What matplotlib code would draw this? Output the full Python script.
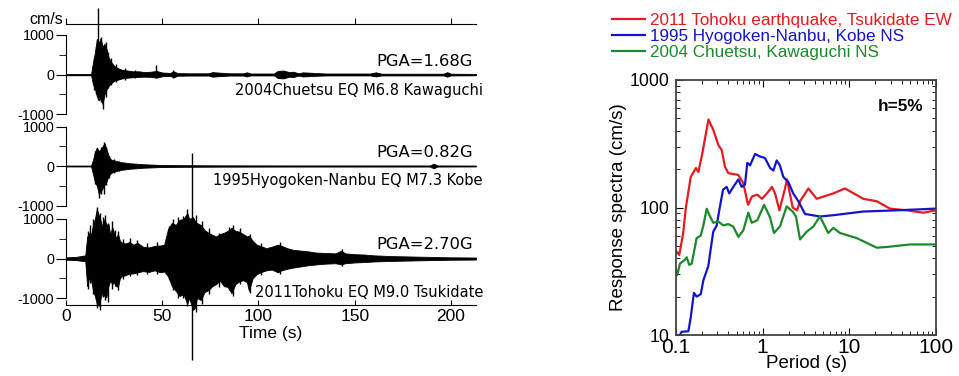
import matplotlib
matplotlib.use('Agg')
import matplotlib.pyplot as plt

plt.rcParams['font.family'] = ['Liberation Sans', 'DejaVu Sans']

# --- seismograms: envelope (time s, upper / lower cm/s) ---
chu_t = [0, 13, 14, 15, 16, 17, 18, 19, 20, 21, 22, 23, 24, 25, 27, 29, 32, 35, 38, 41,
         44, 47, 50, 54, 56, 58, 64, 74, 76, 85, 92, 94, 96, 108, 110, 113, 116, 118, 121, 123,
         135, 158, 161, 164, 185, 196, 198, 200, 213]
chu_hi = [10, 10, 300, 550, 900, 800, 920, 700, 780, 650, 450, 350, 280, 220, 160, 120, 100, 80, 80, 60,
          70, 90, 50, 40, 80, 35, 30, 30, 60, 30, 30, 55, 25, 25, 90, 100, 60, 70, 30, 55,
          25, 25, 55, 20, 20, 20, 60, 20, 15]
chu_lo = [-10, -10, -250, -350, -550, -650, -620, -750, -500, -380, -300, -240, -200, -160, -130, -100, -80, -70, -60, -55,
          -60, -80, -45, -35, -70, -30, -25, -25, -55, -25, -25, -50, -20, -20, -90, -100, -55, -65, -25, -50,
          -20, -20, -50, -20, -20, -20, -55, -20, -15]
chu_spike_t = [14.5, 15.6, 16.8, 18.3, 19.3, 20.6, 21.8, 23.5, 26.0, 30.5, 36.0, 47.0, 55.5]
chu_spike_hi = [420, 700, 1680, 950, 300, 820, 560, 420, 260, 160, 120, 230, 110]
chu_spike_lo = [-380, -500, -650, -700, -880, -560, -350, -260, -200, -130, -100, -100, -90]

kobe_t = [0, 13, 14, 15, 16, 17, 18, 19, 20, 21, 22, 23, 24, 26, 28, 30, 33, 36, 40, 45,
          50, 60, 80, 120, 189, 191, 193, 213]
kobe_hi = [8, 8, 150, 350, 470, 380, 420, 500, 575, 430, 280, 180, 150, 130, 100, 90, 70, 60, 45, 35,
           25, 20, 15, 12, 12, 60, 12, 8]
kobe_lo = [-8, -8, -200, -400, -500, -700, -650, -570, -480, -400, -260, -200, -160, -130, -100, -90, -70, -60, -45, -35,
           -25, -20, -15, -12, -12, -60, -12, -8]
kobe_spike_t = [15.3, 17.0, 18.4, 19.5, 21.0, 22.5, 25.0, 27.5]
kobe_spike_hi = [380, 200, 480, 600, 470, 250, 170, 120]
kobe_spike_lo = [-450, -800, -720, -700, -480, -300, -180, -130]

toh_t = [0, 5, 10, 11, 12, 13, 14, 15, 16, 17, 18, 19, 20, 21, 22, 23, 24, 25, 26, 27,
         28, 29, 31, 33, 35, 37, 40, 43, 46, 49, 51, 53, 55, 57, 59, 61, 63, 64, 66, 67,
         68, 70, 72, 74, 76, 78, 80, 82, 84, 86, 88, 90, 92, 94, 95, 97, 99, 101, 104, 107,
         110, 112, 115, 118, 122, 126, 130, 135, 140, 143, 145, 150, 155, 160, 170, 180, 190, 200, 213]
toh_hi = [30, 40, 80, 550, 650, 600, 850, 1000, 1250, 1100, 950, 800, 1000, 850, 880, 600, 800, 650, 520, 620,
          450, 400, 380, 420, 350, 400, 300, 280, 320, 330, 350, 750, 900, 850, 980, 1000, 1150, 1000, 1050, 950,
          900, 850, 720, 650, 600, 560, 620, 650, 700, 780, 700, 680, 620, 560, 580, 450, 350, 320, 260, 300,
          350, 320, 260, 220, 200, 180, 150, 140, 130, 200, 130, 110, 100, 80, 60, 50, 40, 30, 25]
toh_lo = [-30, -40, -70, -700, -500, -550, -800, -950, -1150, -1200, -1000, -850, -950, -980, -700, -560, -650, -600, -700, -720,
          -500, -450, -420, -380, -380, -350, -320, -340, -300, -350, -330, -450, -700, -820, -950, -900, -1150, -1000, -1300, -1250,
          -1000, -1050, -850, -800, -700, -650, -560, -700, -720, -880, -650, -580, -550, -600, -820, -500, -400, -350, -300, -280,
          -350, -300, -260, -230, -200, -170, -150, -130, -120, -150, -120, -100, -90, -75, -60, -50, -40, -30, -25]
toh_spike_t = [11.4, 12.6, 14.2, 16.3, 17.6, 19.1, 20.3, 21.6, 24.1, 25.7, 27.2, 29.8, 33.4, 36.8, 42.0, 47.5,
               53.6, 55.4, 58.4, 60.6, 62.8, 65.3, 67.4, 70.6, 74.2, 79.5, 84.6, 86.8, 90.2, 95.4, 101.5, 111.0, 143.5]
toh_spike_hi = [700, 850, 1000, 1300, 1150, 1050, 1100, 900, 950, 720, 700, 500, 520, 480, 380, 420,
                820, 1000, 1050, 1080, 1250, 2660, 1100, 950, 760, 650, 800, 850, 760, 620, 380, 420, 240]
toh_spike_lo = [-760, -620, -900, -1250, -1300, -980, -1050, -1100, -760, -700, -800, -520, -450, -420, -380, -400,
                -520, -800, -1000, -1000, -1200, -2570, -1350, -1150, -900, -720, -800, -950, -650, -880, -420, -380, -180]

pga_labels = ['PGA=1.68G', 'PGA=0.82G', 'PGA=2.70G']
captions = ['2004Chuetsu EQ M6.8 Kawaguchi', '1995Hyogoken-Nanbu EQ M7.3 Kobe', '2011Tohoku EQ M9.0 Tsukidate']
time_ticks = [0, 50, 100, 150, 200]

# --- response spectra (period s, Sv cm/s) ---
red_T = [0.1, 0.109, 0.121, 0.13, 0.148, 0.17, 0.181, 0.198, 0.237, 0.269, 0.308, 0.337, 0.367, 0.401, 0.524,
         0.598, 0.678, 0.753, 0.867, 0.982, 1.12, 1.28, 1.39, 1.56, 1.81, 1.91, 2.22, 2.49, 2.70, 3.37,
         4.20, 6.53, 8.91, 14.5, 20.7, 29.4, 45.9, 71.3, 100]
red_Sv = [45.7, 42.4, 63, 100, 174, 204, 190, 251, 490, 407, 309, 282, 209, 186, 180,
          155, 105, 122, 126, 117, 129, 145, 129, 95, 141, 166, 100, 95, 112, 141,
          117, 129, 141, 117, 112, 98, 95, 91, 95]
blue_T = [0.111, 0.116, 0.139, 0.148, 0.161, 0.173, 0.193, 0.207, 0.236, 0.251, 0.269, 0.295, 0.316, 0.349,
          0.384, 0.412, 0.458, 0.524, 0.573, 0.625, 0.665, 0.715, 0.817, 0.931, 1.06, 1.22, 1.33, 1.45, 1.58,
          1.73, 1.98, 2.25, 2.58, 3.08, 4.58, 6.53, 14.5, 35.2, 100]
blue_Sv = [10, 10.6, 10.7, 13.8, 21.4, 20, 20.9, 26.9, 34.7, 46.8, 64.6, 72.4, 95.5, 138,
           145, 129, 145, 166, 145, 151, 224, 214, 263, 251, 245, 204, 195, 234, 214,
           174, 158, 129, 112, 89, 85, 87, 93, 95, 98]
green_T = [0.1, 0.1035, 0.111, 0.127, 0.133, 0.142, 0.152, 0.161, 0.173, 0.193, 0.207, 0.226, 0.247, 0.269,
           0.308, 0.351, 0.401, 0.458, 0.524, 0.598, 0.683, 0.747, 0.867, 1.04, 1.22, 1.35, 1.58, 1.89,
           2.21, 2.42, 2.70, 3.22, 3.84, 4.58, 5.71, 6.53, 7.80, 12.2, 20.7, 27.0, 50.1, 100]
green_Sv = [32.4, 29.5, 36.3, 38.9, 40.7, 35.5, 36.3, 44.7, 57.5, 60.3, 72.4, 97.7, 85.1, 75.9,
            77.6, 72.4, 74.1, 70.8, 58.9, 66.1, 91.2, 75.9, 79.4, 105, 83.2, 63.1, 70.8, 102,
            93.3, 85.1, 56.2, 64.6, 70.8, 85.1, 63.1, 69.2, 63.1, 57.5, 48.4, 49, 51.3, 51.3]
legend_labels = ['2011 Tohoku earthquake, Tsukidate EW', '1995 Hyogoken-Nanbu, Kobe NS', '2004 Chuetsu, Kawaguchi NS']

W, H = 959, 376
fig = plt.figure(figsize=(W / 100, H / 100), dpi=100)


def px_axes(x0, y0, x1, y1):
    return fig.add_axes([x0 / W, 1 - y1 / H, (x1 - x0) / W, (y1 - y0) / H])


def bare(ax):
    for s in ax.spines.values():
        s.set_visible(False)
    ax.patch.set_alpha(0)


XMAX = 213

# time axis (bottom)
ax_time = px_axes(66, 23.5, 476, 305)
bare(ax_time)
ax_time.spines['bottom'].set_visible(True)
ax_time.set_xlim(0, XMAX)
ax_time.set_yticks([])
ax_time.set_xticks(time_ticks)
ax_time.tick_params(axis='x', direction='in', length=3.5, labelsize=12.5, pad=3)
ax_time.set_xlabel('Time (s)', fontsize=12.5, labelpad=1)

# top line with upward ticks
ax_top = fig.add_axes([66 / W, 1 - 23.5 / H, 410 / W, 0.001])
bare(ax_top)
ax_top.spines['bottom'].set_visible(True)
ax_top.set_xlim(0, XMAX)
ax_top.set_yticks([])
ax_top.set_xticks(time_ticks)
ax_top.tick_params(axis='x', direction='in', length=4, labelbottom=False)
fig.text(63 / W, 1 - 20 / H, 'cm/s', ha='right', va='center', fontsize=11.5)

traces = [
    (chu_t, chu_hi, chu_lo, chu_spike_t, chu_spike_hi, chu_spike_lo, 74.5, 340, -412),
    (kobe_t, kobe_hi, kobe_lo, kobe_spike_t, kobe_spike_hi, kobe_spike_lo, 166.0, 330, -360),
    (toh_t, toh_hi, toh_lo, toh_spike_t, toh_spike_hi, toh_spike_lo, 258.5, 355, -855),
]
for i, (t, hi, lo, st, sh, sl, yc, y_pga, y_cap) in enumerate(traces):
    ax = px_axes(66, yc - 39.5, 476, yc + 39.5)
    bare(ax)
    ax.spines['left'].set_visible(True)
    ax.set_xlim(0, XMAX)
    ax.set_ylim(-1000, 1000)
    ax.set_xticks([])
    ax.set_yticks([-1000, 0, 1000])
    ax.set_yticklabels(['-1000', '0', '1000'])
    ax.set_yticks([-500, 500], minor=True)
    ax.tick_params(axis='y', which='major', direction='out', length=7, labelsize=10.4, pad=1.5)
    ax.tick_params(axis='y', which='minor', direction='out', length=5)
    ax.axhline(0, color='black', lw=1.0)
    ax.fill_between(t, lo, hi, color='black', lw=0.6, clip_on=False)
    ax.vlines(st, sl, sh, color='black', lw=1.0, clip_on=False)
    ax.text(211.4, y_pga, pga_labels[i], ha='right', va='center', fontsize=11.8, family='DejaVu Sans')
    ax.text(216.6, y_cap, captions[i], ha='right', va='center', fontsize=10.5, family='DejaVu Sans',
            clip_on=False)

# response spectra
ax_r = px_axes(676, 80, 936, 335)
ax_r.plot(red_T, red_Sv, color='#e81a1f', lw=1.6, label=legend_labels[0])
ax_r.plot(blue_T, blue_Sv, color='#1414c8', lw=1.6, label=legend_labels[1])
ax_r.plot(green_T, green_Sv, color='#1a8a2a', lw=1.6, label=legend_labels[2])
ax_r.set_xscale('log')
ax_r.set_yscale('log')
ax_r.set_xlim(0.1, 100)
ax_r.set_ylim(10, 1000)
ax_r.set_xticks([0.1, 1, 10, 100])
ax_r.set_xticklabels(['0.1', '1', '10', '100'])
ax_r.set_yticks([10, 100, 1000])
ax_r.set_yticklabels(['10', '100', '1000'])
ax_r.tick_params(which='both', direction='in', top=True, right=True)
ax_r.tick_params(which='major', length=5)
ax_r.tick_params(which='minor', length=3)
ax_r.tick_params(axis='x', labelsize=15, pad=2)
ax_r.tick_params(axis='y', labelsize=12.7, pad=5)
for s in ax_r.spines.values():
    s.set_color('#444444')
    s.set_linewidth(1.3)
ax_r.set_xlabel('Period (s)', fontsize=13.5, labelpad=-1)
ax_r.set_ylabel('Response spectra (cm/s)', fontsize=13.5, labelpad=1.5)
ax_r.text(0.95, 0.895, 'h=5%', transform=ax_r.transAxes, ha='right', va='center',
          fontsize=12.3, fontweight='bold')

fig.legend(loc='upper left', bbox_to_anchor=(612 / W, 1 - 13 / H), frameon=False,
           borderpad=0, borderaxespad=0, handlelength=1.95, handletextpad=0.25,
           labelspacing=0.05, fontsize=12.3, labelcolor='linecolor')

fig.savefig('out.png', dpi=100)
